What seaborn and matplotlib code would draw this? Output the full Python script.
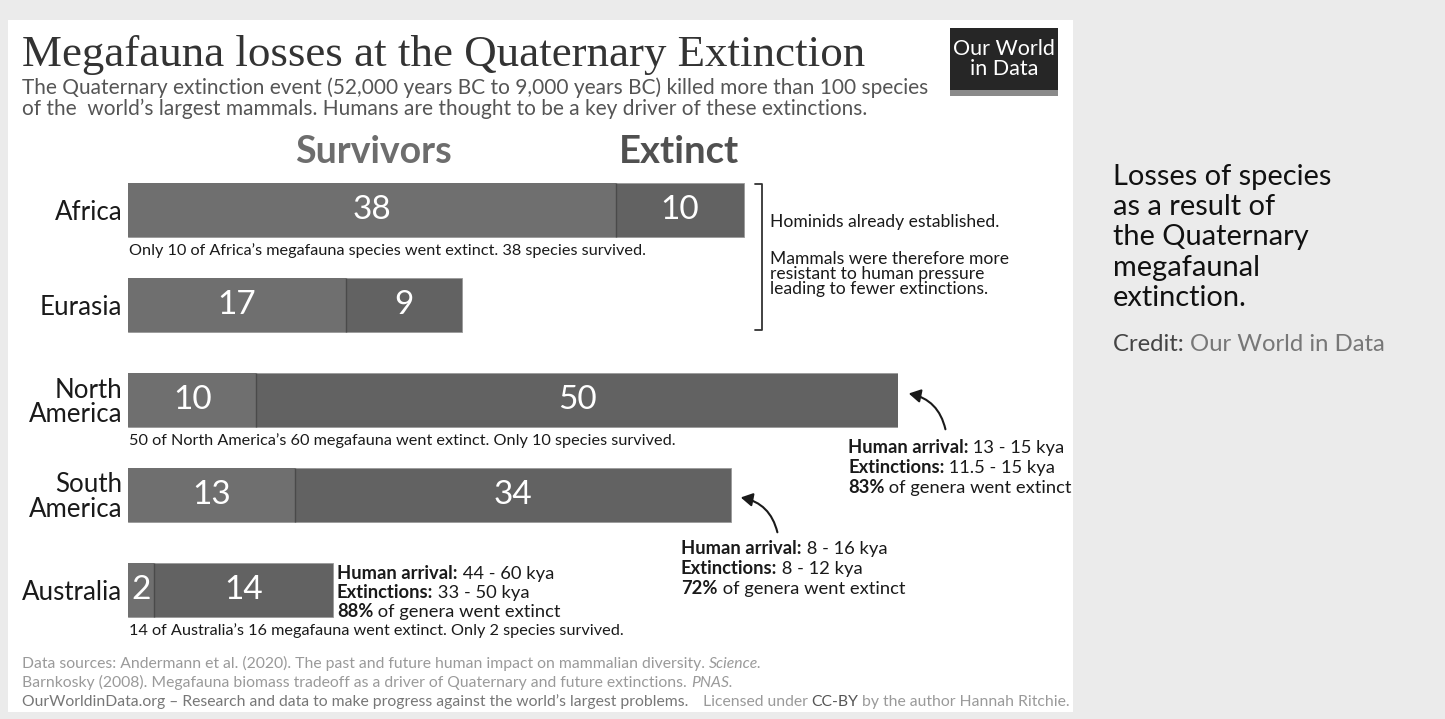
import matplotlib
matplotlib.use("Agg")
import matplotlib.pyplot as plt
import seaborn as sns
import pandas as pd
from matplotlib.patches import Rectangle, FancyArrowPatch
from matplotlib.lines import Line2D

# ---------------- data ----------------
regions = ["Africa", "Eurasia", "North\nAmerica", "South\nAmerica", "Australia"]
survivors = [38, 17, 10, 13, 2]
extinct = [10, 9, 50, 34, 14]
totals = [s + e for s, e in zip(survivors, extinct)]

title = "Megafauna losses at the Quaternary Extinction"
subtitle = ("The Quaternary extinction event (52,000 years BC to 9,000 years BC) killed more than 100 species\n"
            "of the  world\u2019s largest mammals. Humans are thought to be a key driver of these extinctions.")
header_labels = ["Survivors", "Extinct"]
notes_below = {
    "Africa": "Only 10 of Africa\u2019s megafauna species went extinct. 38 species survived.",
    "North\nAmerica": "50 of North America\u2019s 60 megafauna went extinct. Only 10 species survived.",
    "Australia": "14 of Australia\u2019s 16 megafauna went extinct. Only 2 species survived.",
}
bracket_text1 = "Hominids already established."
bracket_text2 = "Mammals were therefore more\nresistant to human pressure\nleading to fewer extinctions."
na_info = [("Human arrival:", " 13 - 15 kya"), ("Extinctions:", " 11.5 - 15 kya"), ("83%", " of genera went extinct")]
sa_info = [("Human arrival:", " 8 - 16 kya"), ("Extinctions:", " 8 - 12 kya"), ("72%", " of genera went extinct")]
au_info = [("Human arrival:", " 44 - 60 kya"), ("Extinctions:", " 33 - 50 kya"), ("88%", " of genera went extinct")]
side_text = "Losses of species\nas a result of\nthe Quaternary\nmegafaunal\nextinction."

# ---------------- style ----------------
W, H = 1445, 719
sns.set_theme(style="white")
plt.rcParams["font.family"] = ["Lato", "DejaVu Sans"]

SURV_C = "#6f6f6f"
EXT_C = "#626262"

fig = plt.figure(figsize=(W / 100, H / 100), dpi=100)
fig.patch.set_facecolor("#ebebeb")


def P(x, y):
    return (x / W, 1 - y / H)


# white panel
fig.add_artist(Rectangle(P(8, 712), (1073 - 8) / W, (712 - 20) / H,
                         transform=fig.transFigure, facecolor="white",
                         edgecolor="none", zorder=-5))

# axes for the bars: x 0..60 spans px 128..898 ; categories centred at 210..590
ax_left, ax_right = 128, 898
ax_top, ax_bot = 162.5, 637.5
ax = fig.add_axes([ax_left / W, 1 - ax_bot / H, (ax_right - ax_left) / W, (ax_bot - ax_top) / H])
ax.set_facecolor("none")

df = pd.DataFrame({"region": regions, "survivors": survivors, "extinct": extinct, "total": totals})
sns.barplot(data=df, x="total", y="region", color=EXT_C, saturation=1, width=0.56,
            orient="h", ax=ax, edgecolor="#9a9a9a", linewidth=0.6)
sns.barplot(data=df, x="survivors", y="region", color=SURV_C, saturation=1, width=0.56,
            orient="h", ax=ax, edgecolor="none", linewidth=0)
ax.set_xlim(0, 60)
ax.set_ylim(4.5, -0.5)
for s in ax.spines.values():
    s.set_visible(False)
ax.set_xlabel("")
ax.set_ylabel("")
ax.set_xticks([])
ax.tick_params(axis="y", length=0, pad=4)
ax.set_yticks(range(len(regions)))
ax.set_yticklabels(regions, fontsize=18.6, color="#1a1a1a", linespacing=0.98)

# dividers between segments
for i, s in enumerate(survivors):
    ax.vlines(s, i - 0.28, i + 0.28, color="#4a4a4a", linewidth=1.0, zorder=5)

# numbers in bars
for i, (s, e) in enumerate(zip(survivors, extinct)):
    ax.text(s / 2, i, str(s), ha="center", va="center", color="white",
            fontsize=24, zorder=6)
    ax.text(s + e / 2, i, str(e), ha="center", va="center", color="white",
            fontsize=24, zorder=6)

# notes under bars
for i, r in enumerate(regions):
    if r in notes_below:
        ax.annotate(notes_below[r], xy=(0, i + 0.28), xycoords="data",
                    xytext=(1, -5), textcoords="offset points",
                    ha="left", va="top", fontsize=11.7, color="#1a1a1a")

# ---------------- header ----------------
fig.text(*P(22, 66), title, ha="left", va="baseline", fontsize=32.4,
         family=["Liberation Serif", "DejaVu Serif"], color="#333333")
fig.text(*P(22, 115), subtitle, ha="left", va="baseline", fontsize=15,
         color="#555555", linespacing=1.05)

# logo
fig.add_artist(Rectangle(P(950, 96), 108 / W, 68 / H, transform=fig.transFigure,
                         facecolor="#8a8a8a", edgecolor="none", zorder=2))
fig.add_artist(Rectangle(P(950, 90), 108 / W, 62 / H, transform=fig.transFigure,
                         facecolor="#262626", edgecolor="none", zorder=3))
fig.text(*P(1004, 59), "Our World\nin Data", ha="center", va="center", fontsize=15.5,
         color="white", linespacing=0.95, zorder=4)

fig.text(*P(373, 152), header_labels[0], ha="center", va="center", fontsize=27,
         fontweight="bold", color="#6d6d6d")
fig.text(*P(679, 152), header_labels[1], ha="center", va="center", fontsize=27.5,
         fontweight="bold", color="#505050")

# ---------------- bracket ----------------
bc = "#333333"
fig.add_artist(Line2D([755 / W, 762 / W, 762 / W, 755 / W],
                      [1 - 184 / H, 1 - 184 / H, 1 - 330 / H, 1 - 330 / H],
                      transform=fig.transFigure, color=bc, linewidth=1.3))
fig.text(*P(770, 222), bracket_text1, ha="left", va="center", fontsize=12.6, color="#1a1a1a")
fig.text(*P(770, 274), bracket_text2, ha="left", va="center", fontsize=12.6,
         color="#1a1a1a", linespacing=0.95)


# ---------------- info blocks ----------------
def info_block(x, y, rows, size=13.2, dy=20):
    for k, (b, r) in enumerate(rows):
        t = fig.text(*P(x, y + k * dy), b, ha="left", va="baseline", fontsize=size,
                     fontweight="bold", color="#1a1a1a")
        ax.annotate(r, xy=(1, 0), xycoords=t, ha="left", va="bottom",
                    fontsize=size, color="#1a1a1a", annotation_clip=False)


info_block(848, 453, na_info)
info_block(681, 554, sa_info)
info_block(337, 579, au_info, dy=19)

# arrows
for (x0, y0), (x1, y1) in [((946, 432), (906, 393)), ((778, 535), (738, 497))]:
    fig.add_artist(FancyArrowPatch(P(x0, y0), P(x1, y1), transform=fig.transFigure,
                                   connectionstyle="arc3,rad=0.35",
                                   arrowstyle="-|>,head_length=7,head_width=4",
                                   color="#1a1a1a", linewidth=1.5, mutation_scale=1))

# ---------------- footer ----------------
fc = "#9a9a9a"
ft = 11.3
t1 = fig.text(*P(22, 668), "Data sources: Andermann et al. (2020). The past and future human impact on mammalian diversity. ",
              ha="left", va="baseline", fontsize=ft, color=fc)
ax.annotate("Science.", xy=(1, 0), xycoords=t1, ha="left", va="bottom", fontsize=ft,
            color=fc, style="italic", annotation_clip=False)
t2 = fig.text(*P(22, 687), "Barnkosky (2008). Megafauna biomass tradeoff as a driver of Quaternary and future extinctions. ",
              ha="left", va="baseline", fontsize=ft, color=fc)
ax.annotate("PNAS.", xy=(1, 0), xycoords=t2, ha="left", va="bottom", fontsize=ft,
            color=fc, style="italic", annotation_clip=False)
t3 = fig.text(*P(22, 706), "OurWorldinData.org \u2013 Research and data to make progress against the world\u2019s largest problems.",
              ha="left", va="baseline", fontsize=ft, color="#777777")
t4 = fig.text(*P(1070, 706), " by the author Hannah Ritchie.", ha="right", va="baseline",
              fontsize=ft, color=fc)
t5 = ax.annotate("CC-BY", xy=(0, 0), xycoords=t4, ha="right", va="bottom", fontsize=ft,
                 color="#555555", annotation_clip=False)
ax.annotate("Licensed under ", xy=(0, 0), xycoords=t5, ha="right", va="bottom", fontsize=ft,
            color=fc, annotation_clip=False)

# ---------------- side text ----------------
fig.text(*P(1113, 164), side_text, ha="left", va="top", fontsize=20.9, color="#111111",
         linespacing=1.2)
tc = fig.text(*P(1113, 351), "Credit: ", ha="left", va="baseline", fontsize=17.2,
              color="#444444")
ax.annotate("Our World in Data", xy=(1, 0), xycoords=tc, ha="left", va="bottom",
            fontsize=17.2, color="#777777", annotation_clip=False)

fig.savefig("out.png", dpi=100, facecolor=fig.get_facecolor())
